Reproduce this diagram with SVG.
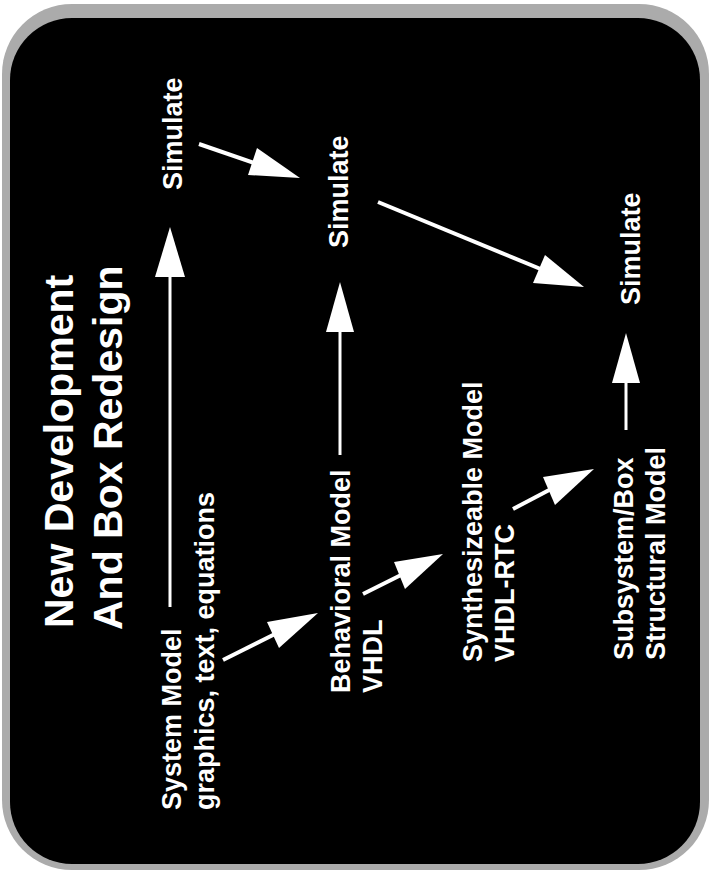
<svg xmlns="http://www.w3.org/2000/svg" width="710" height="873" viewBox="0 0 710 873">
<style>
.lbl{font-family:"Liberation Sans",Arial,Helvetica,sans-serif;font-weight:bold;fill:#fff;font-size:27px}
.title{font-size:41px}
.ln{stroke:#fff;fill:none}
.v{stroke-width:3}
.d{stroke-width:4}
.hd{fill:#fff}
</style>
<rect width="710" height="873" fill="#fff"/>
<rect x="2" y="4" width="707" height="866" rx="70" fill="#ababab"/>
<rect x="10" y="18" width="690" height="846" rx="62" fill="#000"/>
<g id="title">
<text class="lbl title" transform="translate(73,628) rotate(-90)">New Development</text>
<text class="lbl title" transform="translate(122,630) rotate(-90)">And Box Redesign</text>
</g>
<g id="system-model">
<text class="lbl" transform="translate(181,810) rotate(-90)">System Model</text>
<text class="lbl" transform="translate(214,810) rotate(-90)">graphics, text, equations</text>
</g>
<g id="simulate-1">
<text class="lbl" transform="translate(182,190) rotate(-90)">Simulate</text>
</g>
<g id="behavioral-model">
<text class="lbl" transform="translate(350,693) rotate(-90)">Behavioral Model</text>
<text class="lbl" transform="translate(382,693) rotate(-90)">VHDL</text>
</g>
<g id="simulate-2">
<text class="lbl" transform="translate(348,248) rotate(-90)">Simulate</text>
</g>
<g id="synthesizeable-model">
<text class="lbl" transform="translate(482,662) rotate(-90)">Synthesizeable Model</text>
<text class="lbl" transform="translate(514,662) rotate(-90)">VHDL-RTC</text>
</g>
<g id="subsystem-model">
<text class="lbl" transform="translate(633,660) rotate(-90)">Subsystem/Box</text>
<text class="lbl" transform="translate(665,660) rotate(-90)">Structural Model</text>
</g>
<g id="simulate-3">
<text class="lbl" transform="translate(640,305) rotate(-90)">Simulate</text>
</g>
<g id="connectors">
<line class="ln v" x1="170" y1="607" x2="170" y2="272"/>
<polygon class="hd" points="170,227 155,277 185,277"/>
<line class="ln v" x1="340" y1="455" x2="340" y2="327"/>
<polygon class="hd" points="340,282 326,332 354,332"/>
<line class="ln v" x1="626" y1="430" x2="626" y2="378"/>
<polygon class="hd" points="626,333 612,383 640,383"/>
<line class="ln d" x1="199" y1="144" x2="257" y2="164"/>
<polygon class="hd" points="300,178 257,148 248,175"/>
<line class="ln d" x1="378" y1="202" x2="543" y2="270"/>
<polygon class="hd" points="584,287 545,255 533,283"/>
<line class="ln d" x1="223" y1="660" x2="277" y2="633"/>
<polygon class="hd" points="318,613 267,622 279,648"/>
<line class="ln d" x1="363" y1="594" x2="403" y2="574"/>
<polygon class="hd" points="443,554 394,562 405,589"/>
<line class="ln d" x1="513" y1="509" x2="553" y2="488"/>
<polygon class="hd" points="594,469 543,477 555,505"/>
</g>
</svg>
